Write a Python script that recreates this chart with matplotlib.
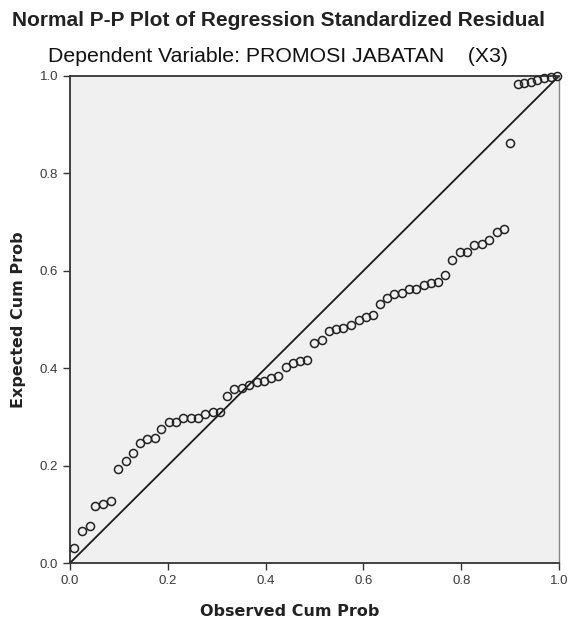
import matplotlib
matplotlib.use("Agg")
import matplotlib.pyplot as plt

observed = [0.008, 0.024, 0.040, 0.052, 0.068, 0.083, 0.098, 0.114, 0.128, 0.143,
            0.158, 0.173, 0.187, 0.202, 0.217, 0.232, 0.247, 0.261, 0.277, 0.292,
            0.307, 0.322, 0.336, 0.351, 0.367, 0.382, 0.396, 0.411, 0.426, 0.442,
            0.457, 0.470, 0.485, 0.499, 0.515, 0.530, 0.544, 0.559, 0.574, 0.590,
            0.605, 0.619, 0.634, 0.649, 0.663, 0.678, 0.693, 0.708, 0.723, 0.738,
            0.753, 0.767, 0.782, 0.798, 0.812, 0.826, 0.842, 0.857, 0.873, 0.887,
            0.900, 0.916, 0.929, 0.943, 0.956, 0.970, 0.984, 0.995]
expected = [0.030, 0.065, 0.077, 0.118, 0.121, 0.128, 0.192, 0.210, 0.225, 0.247,
            0.255, 0.256, 0.275, 0.289, 0.289, 0.297, 0.298, 0.298, 0.306, 0.310,
            0.310, 0.342, 0.358, 0.359, 0.365, 0.371, 0.373, 0.380, 0.383, 0.402,
            0.411, 0.414, 0.416, 0.451, 0.457, 0.477, 0.480, 0.482, 0.488, 0.500,
            0.505, 0.509, 0.531, 0.545, 0.552, 0.555, 0.562, 0.562, 0.570, 0.574,
            0.576, 0.591, 0.622, 0.639, 0.639, 0.654, 0.656, 0.664, 0.679, 0.686,
            0.863, 0.983, 0.985, 0.987, 0.991, 0.995, 0.998, 1.000]
ticks = [0.0, 0.2, 0.4, 0.6, 0.8, 1.0]
tick_labels = ["0.0", "0.2", "0.4", "0.6", "0.8", "1.0"]

fig = plt.figure(figsize=(5.69, 6.24), dpi=100)
ax = fig.add_axes([70/569, 61/624, 489/569, 487/624])
ax.set_facecolor("#F0F0F0")
ax.set_xlim(0, 1)
ax.set_ylim(0, 1)
ax.plot([0, 1], [0, 1], color="#1a1a1a", lw=1.3, zorder=2)
ax.plot(observed, expected, linestyle="none", marker="o", markersize=5.8,
        markerfacecolor="none", markeredgecolor="#222222", markeredgewidth=1.1,
        zorder=3, clip_on=False)
ax.set_xticks(ticks)
ax.set_xticklabels(tick_labels, family="Liberation Sans")
ax.set_yticks(ticks)
ax.set_yticklabels(tick_labels, family="Liberation Sans")
ax.tick_params(direction="out", length=5, width=1, color="#333333",
               labelsize=9.5, labelcolor="#3a3a3a", pad=3.5)
for side in ["left", "bottom", "top"]:
    ax.spines[side].set_color("#333333")
    ax.spines[side].set_linewidth(1.3)
ax.spines["right"].set_color("#888888")
ax.spines["right"].set_linewidth(1.0)

fig.text(290/569, 1 - 611/624, "Observed Cum Prob", ha="center", va="center",
         fontsize=11.5, fontweight="bold", family="DejaVu Sans", color="#222222")
fig.text(18.5/569, 1 - 320/624, "Expected Cum Prob", ha="center", va="center",
         rotation=90, fontsize=11.5, fontweight="bold", family="DejaVu Sans",
         color="#222222")

fig.text(278.5/569, 1 - 20/624, "Normal P-P Plot of Regression Standardized Residual",
         ha="center", va="center", fontsize=15, fontweight="bold",
         family="Liberation Sans", color="#222222")
fig.text(277.5/569, 1 - 57/624, "Dependent Variable: PROMOSI JABATAN    (X3)",
         ha="center", va="center", fontsize=15.3,
         family="Liberation Sans", color="#111111")

fig.savefig("out.png", dpi=100)
